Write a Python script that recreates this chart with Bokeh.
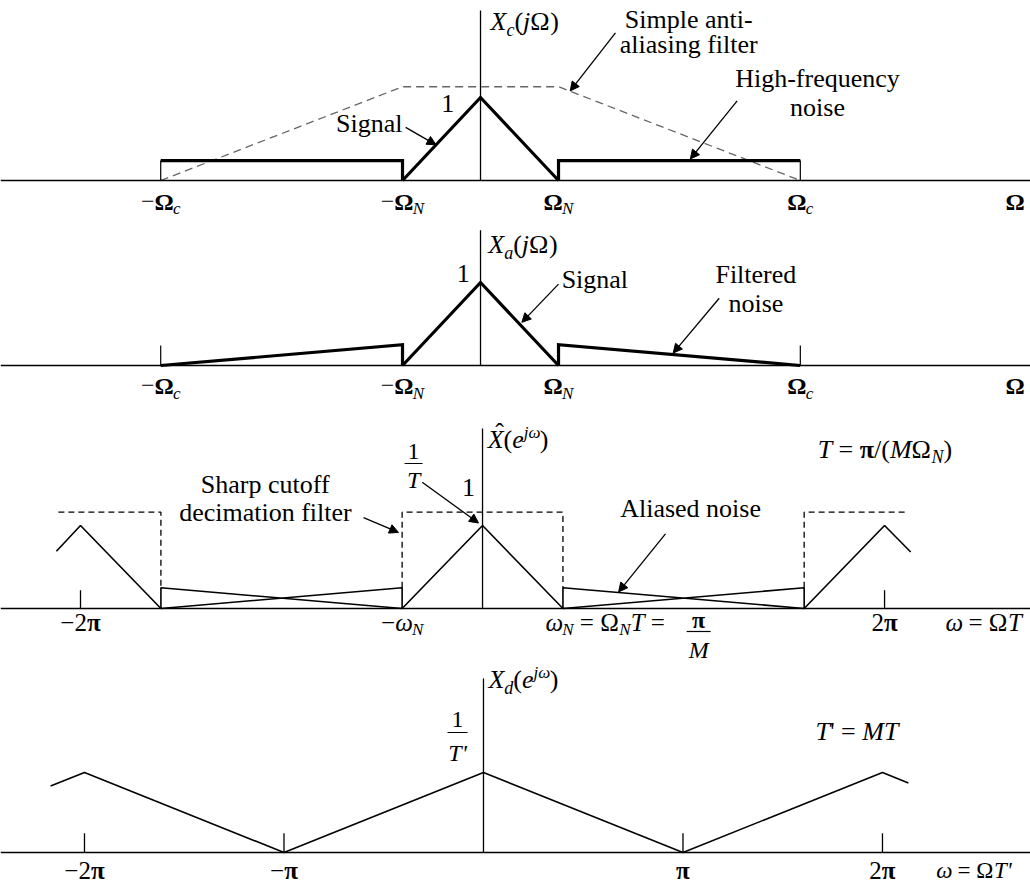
from bokeh.plotting import figure
from bokeh.layouts import column
from bokeh.models import Span, Arrow, NormalHead
from bokeh.core.properties import value
from bokeh.embed import file_html
from bokeh.resources import INLINE

FONT = "Liberation Serif"
W = 1030
BASE_FIX = 0.33  # raise so that the glyph baseline lands on the anchor

# ---------------- data ----------------
# Panels 1 and 2: frequency in units of Omega_N
omega_N = 1.0
omega_c = 4.1
signal_x = [-1.0, 0.0, 1.0]
signal_y = [0.0, 1.0, 0.0]
noise_level = 0.24
filter_level = 1.13
aa_filter_x = [-4.1, -1.0, 1.0, 4.1]
aa_filter_y = [0.0, 1.13, 1.13, 0.0]
hf_noise_left_x = [-4.1, -1.0, -1.0]
hf_noise_left_y = [0.24, 0.24, 0.0]
hf_noise_right_x = [1.0, 1.0, 4.1]
hf_noise_right_y = [0.0, 0.24, 0.24]
filt_noise_left_x = [-4.1, -1.0, -1.0]
filt_noise_left_y = [0.0, 0.25, 0.0]
filt_noise_right_x = [1.0, 1.0, 4.1]
filt_noise_right_y = [0.0, 0.25, 0.0]
ticks12 = [-4.1, -1.0, 1.0, 4.1]
tick12_main = ["\u2212\u03a9", "\u2212\u03a9", "\u03a9", "\u03a9"]
tick12_sub = ["c", "N", "N", "c"]

# Panel 3: omega in units of pi  (omega_N = pi/M)
p3_left_x = [-2.12, -2.0, -1.6]
p3_left_y = [0.69, 1.0, 0.0]
p3_mid_x = [-0.4, 0.0, 0.4]
p3_mid_y = [0.0, 1.0, 0.0]
p3_right_x = [1.6, 2.0, 2.13]
p3_right_y = [0.0, 1.0, 0.68]
alias_left_x = [-1.6, -1.6, -0.4, -0.4, -1.6]
alias_left_y = [0.0, 0.25, 0.0, 0.25, 0.0]
alias_right_x = [0.4, 0.4, 1.6, 1.6, 0.4]
alias_right_y = [0.0, 0.25, 0.0, 0.25, 0.0]
dec_left_x = [-2.11, -1.6, -1.6]
dec_left_y = [1.16, 1.16, 0.25]
dec_mid_x = [-0.4, -0.4, 0.4, 0.4]
dec_mid_y = [0.25, 1.16, 1.16, 0.25]
dec_right_x = [1.6, 1.6, 2.11]
dec_right_y = [0.25, 1.16, 1.16]
ticks3 = [-2.0, 2.0]
tick3_labels = ["\u22122\u03c0", "2\u03c0"]

# Panel 4: omega in units of pi
p4_x = [-2.17, -2.0, -1.0, 0.0, 1.0, 2.0, 2.13]
p4_y = [0.83, 1.0, 0.0, 1.0, 0.0, 1.0, 0.87]
ticks4 = [-2.0, -1.0, 1.0, 2.0]
tick4_labels = ["\u22122\u03c0", "\u2212\u03c0", "\u03c0", "2\u03c0"]

# ---------------- text metrics (Times-like) ----------------
W_REG = {' ': .25, '(': .333, ')': .333, '-': .333, '\u2212': .564, '=': .564, '/': .278,
         "'": .18, '1': .5, '2': .5, 'A': .722, 'F': .556, 'H': .722, 'M': .889, 'S': .556,
         'T': .611, 'a': .444, 'c': .444, 'd': .5, 'e': .444, 'f': .333, 'g': .5, 'h': .5,
         'i': .278, 'l': .278, 'm': .778, 'n': .5, 'o': .5, 'p': .5, 'q': .5, 'r': .333,
         's': .389, 't': .278, 'u': .5, 'y': .5, '\u03a9': .768, '\u03c0': .55, '\u03c9': .67,
         '\u02c6': .333}
W_IT = {'X': .611, 'N': .667, 'T': .556, 'M': .833, 'a': .5, 'c': .444, 'd': .5, 'e': .444,
        'j': .278, '\u03c9': .67, "'": .214}
W_B = {'\u03a9': .77, '\u03c0': .55, '2': .5, '\u2212': .57}


def tw(text, style, size):
    tab = {'normal': W_REG, 'italic': W_IT, 'bold': W_B}[style]
    return sum(tab.get(ch, W_REG.get(ch, .5)) for ch in text) * size


class Panel:
    def __init__(self, height, xr, yr):
        self.p = figure(width=W, height=height, x_range=xr, y_range=yr,
                        x_axis_type=None, y_axis_type=None, toolbar_location=None,
                        output_backend="svg", min_border=0, outline_line_color=None,
                        background_fill_color="white", border_fill_color="white")
        self.kx = W / (xr[1] - xr[0])
        self.ky = height / (yr[1] - yr[0])
        self.p.add_layout(Span(location=0, dimension="width", line_color="black", line_width=1.5))

    def runs(self, x, y, runs, align="left"):
        widths = [tw(t, st, sz) for (t, st, sz, r) in runs]
        total = sum(widths)
        cur = {'left': 0, 'center': -total / 2, 'right': -total}[align]
        for (t, st, sz, r), w in zip(runs, widths):
            lead = len(t) - len(t.lstrip(' '))
            tt = t.strip(' ')
            off = lead * W_REG[' '] * sz
            if tt:
                self.p.text(x=[x + (cur + off) / self.kx], y=[y + (r + BASE_FIX * sz) / self.ky],
                            text=[tt], text_font=value(FONT), text_font_size=f"{sz}px",
                            text_font_style=st, text_align="left",
                            text_baseline="alphabetic", text_color="black")
            cur += w

    def arrow(self, x0, y0, x1, y1):
        self.p.add_layout(Arrow(end=NormalHead(size=9, fill_color="black", line_color="black"),
                                x_start=x0, y_start=y0, x_end=x1, y_end=y1,
                                line_color="black", line_width=1.3))

    def bar(self, x, y, half_px):
        self.p.segment(x0=[x - half_px / self.kx], x1=[x + half_px / self.kx], y0=[y], y1=[y],
                       line_color="black", line_width=1.2)

    def vaxis(self, top):
        self.p.segment(x0=[0], x1=[0], y0=[0], y1=[top], line_color="black", line_width=1.3)


N, I, B = "normal", "italic", "bold"

# ---------------- panel 1 ----------------
P1 = Panel(222, (-6.154, 7.051), (-0.506, 2.169))
p = P1.p
P1.vaxis(2.05)
p.line(aa_filter_x, aa_filter_y, line_color="#666666", line_width=1.3, line_dash="8 5")
p.segment(x0=[-omega_c, omega_c], x1=[-omega_c, omega_c], y0=[0, 0], y1=[noise_level, noise_level],
          line_color="black", line_width=1.2)
for xs, ys in [(signal_x, signal_y), (hf_noise_left_x, hf_noise_left_y), (hf_noise_right_x, hf_noise_right_y)]:
    p.line(xs, ys, line_color="black", line_width=3.2, line_join="miter")
P1.runs(0.128, 1.807, [("X", I, 26, 0), ("c", I, 18, -5), ("(", N, 26, 0), ("j", I, 26, 0),
                       ("\u03a9", N, 26, 0), (")", N, 26, 0)])
P1.runs(-0.42, 0.82, [("1", N, 26, 0)], "center")
P1.runs(-1.0, 0.58, [("Signal", N, 26, 0)], "right")
P1.runs(2.67, 1.84, [("Simple anti-", N, 26, 0)], "center")
P1.runs(2.67, 1.53, [("aliasing filter", N, 26, 0)], "center")
P1.runs(4.32, 1.12, [("High-frequency", N, 26, 0)], "center")
P1.runs(4.32, 0.78, [("noise", N, 26, 0)], "center")
for t, m, s in zip(ticks12, tick12_main, tick12_sub):
    runs = [(m[:-1], N, 24, 0)] if len(m) > 1 else []
    runs += [(m[-1], B, 24, 0), (s, I, 17, -5)]
    P1.runs(t, -0.35, runs, "center")
P1.runs(6.85, -0.35, [("\u03a9", B, 24, 0)], "center")
P1.arrow(-0.96, 0.64, -0.57, 0.43)
P1.arrow(1.73, 1.78, 1.15, 1.08)
P1.arrow(3.29, 0.96, 2.69, 0.26)

# ---------------- panel 2 ----------------
P2 = Panel(186, (-6.154, 7.051), (-0.518, 1.723))
p = P2.p
P2.vaxis(1.63)
p.segment(x0=[-omega_c, omega_c], x1=[-omega_c, omega_c], y0=[0, 0], y1=[noise_level, noise_level],
          line_color="black", line_width=1.2)
for xs, ys in [(signal_x, signal_y), (filt_noise_left_x, filt_noise_left_y), (filt_noise_right_x, filt_noise_right_y)]:
    p.line(xs, ys, line_color="black", line_width=3.2, line_join="miter")
P2.runs(0.1, 1.35, [("X", I, 26, 0), ("a", I, 18, -5), ("(", N, 26, 0), ("j", I, 26, 0),
                    ("\u03a9", N, 26, 0), (")", N, 26, 0)])
P2.runs(-0.22, 1.0, [("1", N, 26, 0)], "center")
P2.runs(1.04, 0.93, [("Signal", N, 26, 0)], "left")
P2.runs(3.53, 0.99, [("Filtered", N, 26, 0)], "center")
P2.runs(3.53, 0.64, [("noise", N, 26, 0)], "center")
for t, m, s in zip(ticks12, tick12_main, tick12_sub):
    runs = [(m[:-1], N, 24, 0)] if len(m) > 1 else []
    runs += [(m[-1], B, 24, 0), (s, I, 17, -5)]
    P2.runs(t, -0.34, runs, "center")
P2.runs(6.85, -0.34, [("\u03a9", B, 24, 0)], "center")
P2.arrow(1.0, 0.98, 0.53, 0.52)
P2.arrow(3.06, 0.81, 2.47, 0.15)

# ---------------- panel 3 ----------------
P3 = Panel(254, (-2.398, 2.726), (-0.6506, 2.4096))
p = P3.p
P3.vaxis(2.17)
for xs, ys in [(dec_left_x, dec_left_y), (dec_mid_x, dec_mid_y), (dec_right_x, dec_right_y)]:
    p.line(xs, ys, line_color="black", line_width=1.3, line_dash="6 4")
for xs, ys in [(p3_left_x, p3_left_y), (p3_mid_x, p3_mid_y), (p3_right_x, p3_right_y),
               (alias_left_x, alias_left_y), (alias_right_x, alias_right_y)]:
    p.line(xs, ys, line_color="black", line_width=1.6)
p.segment(x0=ticks3, x1=ticks3, y0=[0] * len(ticks3), y1=[0.22] * len(ticks3),
          line_color="black", line_width=1.3)
# X-hat(e^{jw})
P3.runs(0.065 + 4 / P3.kx, 1.93, [("\u02c6", N, 26, 7)], "center")
P3.runs(0.065 - tw("X", I, 26) / 2 / P3.kx, 1.93,
        [("X", I, 26, 0), ("(", N, 26, 0), ("e", I, 26, 0), ("j\u03c9", I, 17, 10), (")", N, 26, 0)])
P3.runs(1.667, 1.81, [("T", I, 26, 0), (" = ", N, 26, 0), ("\u03c0", B, 26, 0), ("/(", N, 26, 0),
                      ("M", I, 26, 0), ("\u03a9", N, 26, 0), ("N", I, 18, -5), (")", N, 26, 0)])
P3.runs(-0.343, 1.795, [("1", N, 24, 0)], "center")
P3.bar(-0.343, 1.747, 9)
P3.runs(-0.343, 1.458, [("T", I, 24, 0)], "center")
P3.runs(-0.07, 1.36, [("1", N, 26, 0)], "center")
P3.runs(-1.08, 1.385, [("Sharp cutoff", N, 26, 0)], "center")
P3.runs(-1.08, 1.05, [("decimation filter", N, 26, 0)], "center")
P3.runs(1.035, 1.10, [("Aliased noise", N, 26, 0)], "center")
P3.arrow(-0.30, 1.52, -0.02, 1.03)
P3.arrow(-0.592, 1.096, -0.418, 0.916)
P3.arrow(0.91, 0.90, 0.677, 0.20)
for t, lab in zip(ticks3, tick3_labels):
    runs = [(lab[:-1], N, 25, 0), (lab[-1], B, 25, 0)]
    P3.runs(t, -0.265, runs, "center")
P3.runs(-0.4, -0.265, [("\u2212", N, 25, 0), ("\u03c9", I, 25, 0), ("N", I, 17, -5)], "center")
P3.runs(0.313, -0.265, [("\u03c9", I, 25, 0), ("N", I, 17, -5), (" = ", N, 25, 0),
                        ("\u03a9", N, 25, 0), ("N", I, 17, -5), ("T", I, 25, 0), (" = ", N, 25, 0)])
P3.runs(1.075, -0.229, [("\u03c0", B, 24, 0)], "center")
P3.bar(1.075, -0.277, 12)
P3.runs(1.075, -0.59, [("M", I, 24, 0)], "center")
P3.runs(2.303, -0.265, [("\u03c9", I, 25, 0), (" = ", N, 25, 0), ("\u03a9", N, 25, 0), ("T", I, 25, 0)])

# ---------------- panel 4 ----------------
P4 = Panel(222, (-2.421, 2.742), (-0.4, 2.375))
p = P4.p
P4.vaxis(2.175)
p.line(p4_x, p4_y, line_color="black", line_width=1.6)
p.segment(x0=ticks4, x1=ticks4, y0=[0] * len(ticks4), y1=[0.24] * len(ticks4),
          line_color="black", line_width=1.3)
P4.runs(0.025, 2.05, [("X", I, 26, 0), ("d", I, 18, -5), ("(", N, 26, 0), ("e", I, 26, 0),
                      ("j\u03c9", I, 17, 10), (")", N, 26, 0)])
P4.runs(-0.13, 1.5625, [("1", N, 24, 0)], "center")
P4.bar(-0.13, 1.5, 10)
P4.runs(-0.13, 1.15, [("T'", I, 24, 0)], "center")
P4.runs(1.664, 1.4, [("T", I, 26, 0), ("' = ", N, 26, 0), ("MT", I, 26, 0)])
for t, lab in zip(ticks4, tick4_labels):
    runs = ([(lab[:-1], N, 25, 0)] if len(lab) > 1 else []) + [(lab[-1], B, 25, 0)]
    P4.runs(t, -0.325, runs, "center")
P4.runs(2.27, -0.325, [("\u03c9", I, 23, 0), (" = ", N, 23, 0), ("\u03a9", N, 23, 0), ("T'", I, 23, 0)])

layout = column(P1.p, P2.p, P3.p, P4.p, spacing=0)
open("out.html", "w").write(file_html(layout, INLINE))
